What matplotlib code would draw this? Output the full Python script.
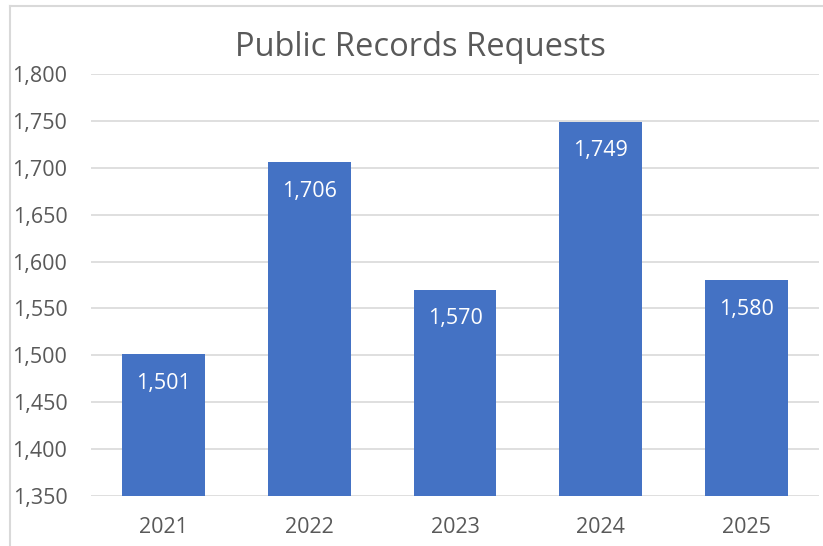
import matplotlib
matplotlib.use("Agg")
from matplotlib import pyplot as plt
from matplotlib.lines import Line2D

years = ["2021", "2022", "2023", "2024", "2025"]
requests = [1501, 1706, 1570, 1749, 1580]
y_ticks = [1350, 1400, 1450, 1500, 1550, 1600, 1650, 1700, 1750, 1800]

plt.rcParams['font.family'] = ['Open Sans', 'DejaVu Sans']
grey = '#595959'

fig = plt.figure(figsize=(8.23, 5.46), dpi=100)
ax = fig.add_axes([91 / 823, 1 - 496 / 546, 728 / 823, 422 / 546])

x = list(range(len(years)))
ax.bar(x, requests, width=0.57, color='#4472C4', zorder=3)
ax.set_xlim(-0.5, len(years) - 0.5)
ax.set_ylim(1350, 1800)
ax.set_yticks(y_ticks)
ax.set_yticklabels([f"{v:,}" for v in y_ticks], color=grey, fontsize=15.5)
ax.set_xticks(x)
ax.set_xticklabels(years, color=grey, fontsize=15.5)
ax.tick_params(length=0, axis='y', pad=17)
ax.tick_params(length=0, axis='x', pad=15)
ax.grid(axis='y', color='#D9D9D9', linewidth=1.2, zorder=0)
for s in ax.spines.values():
    s.set_visible(False)

for xi, v in zip(x, requests):
    ax.text(xi, v - 31, f"{v:,}", ha='center', va='center', color='white',
            fontsize=15.5, zorder=4)

fig.text(420 / 823, 1 - 48 / 546, "Public Records Requests", ha='center', va='center',
         color=grey, fontsize=23.5)

# chart frame (top and left edges visible)
fig.add_artist(Line2D([10 / 823, 1], [1 - 5.5 / 546] * 2, color='#D9D9D9', linewidth=1.5,
                      transform=fig.transFigure))
fig.add_artist(Line2D([10 / 823] * 2, [0, 1 - 5.5 / 546], color='#D9D9D9', linewidth=1.5,
                      transform=fig.transFigure))

fig.savefig("out.png", dpi=100)
